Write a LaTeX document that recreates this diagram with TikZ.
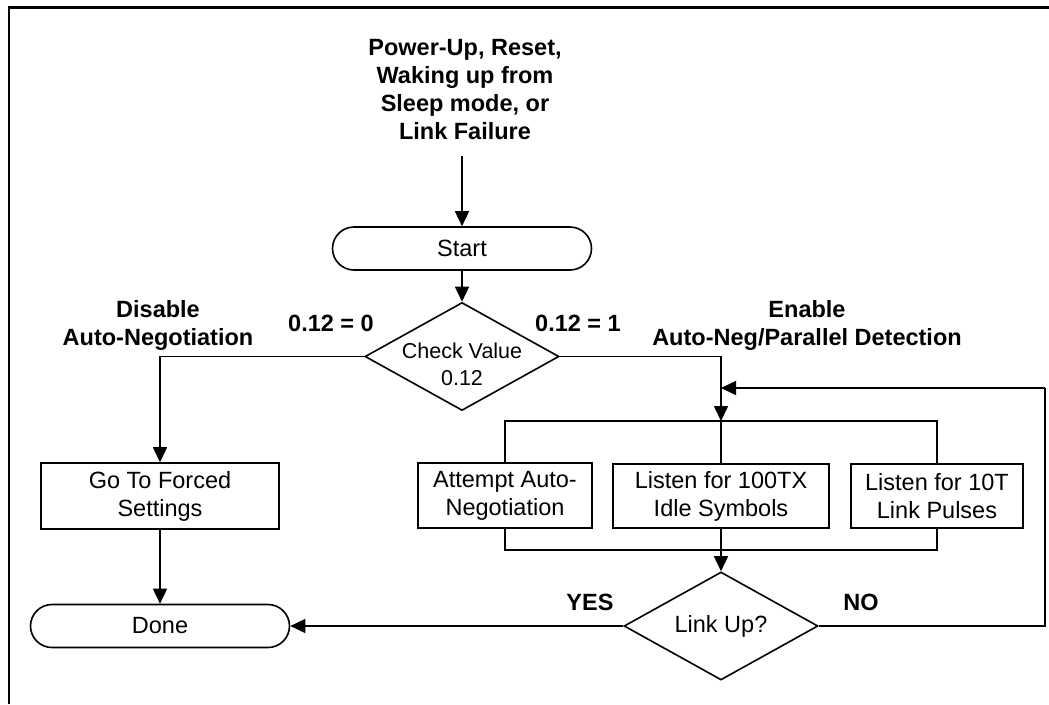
\documentclass[tikz,border=0pt]{standalone}
\usepackage{fontspec}
\setmainfont{Liberation Sans}
\usetikzlibrary{arrows.meta,shapes.geometric}
\begin{document}
\begin{tikzpicture}[x=1pt,y=-1pt,
  every node/.style={font=\fontsize{23.5}{28}\selectfont},
  ln/.style={line width=1.6pt},
  arr/.style={ln,-{Triangle[width=14pt,length=15pt]}},
  proc/.style={draw,ln,rectangle,align=center,inner sep=0pt},
  term/.style={draw,ln,rectangle,rounded corners=21.5pt,minimum width=259pt,minimum height=43pt,inner sep=0pt},
  dec/.style={draw,ln,diamond,minimum width=194pt,minimum height=108pt,inner sep=0pt},
  lbl/.style={inner sep=0pt,align=center,font=\fontsize{23.5}{28}\selectfont\bfseries}
]
\useasboundingbox (0,0) rectangle (1049,704);
\draw[line width=2.6pt] (9,704) -- (9,7.5) -- (1049,7.5);

\node[lbl] (title) at (465,90) {Power-Up, Reset,\\Waking up from\\Sleep mode, or\\Link Failure};
\coordinate (tin) at (462,156);

\node[term] (start) at (462,248.5) {Start};
\node[dec] (chk) at (462,356.5) {};
\node[inner sep=0pt,align=center,font=\fontsize{21.5}{27}\selectfont] (chkt) at (462,364) {Check Value\\0.12};

\node[lbl] (dis) at (158,325) {Disable\\Auto-Negotiation};
\node[lbl] (en) at (807,325) {Enable\\Auto-Neg/Parallel Detection};
\node[lbl] (z0) at (331,323.5) {0.12 = 0};
\node[lbl] (z1) at (578,323.5) {0.12 = 1};

\node[proc,minimum width=238pt,minimum height=66pt] (forced) at (160,496) {Go To Forced\\Settings};
\node[term] (done) at (160,626) {Done};

\node[proc,minimum width=174pt,minimum height=65pt] (att) at (505,495.5) {Attempt Auto-\\Negotiation};
\node[proc,minimum width=216pt,minimum height=64pt] (tx) at (721,496) {Listen for 100TX\\Idle Symbols};
\node[proc,minimum width=172pt,minimum height=64pt] (ten) at (937,496) {Listen for 10T\\Link Pulses};

\coordinate (jt) at (721,421);
\coordinate (jb) at (721,550);
\coordinate (fb) at (721,388);
\coordinate (fbc) at (1045,388);

\node[dec] (link) at (721,626) {};
\node[inner sep=0pt] (linkt) at (link) {Link Up?};

\node[lbl] (yes) at (590,602.5) {YES};
\node[lbl] (no) at (861,602.5) {NO};

\draw[arr] (tin) -- (start.north);
\draw[arr] (start.south) -- (chk.north);
\draw[arr] (chk.west) -| (forced.north);
\draw[arr] (forced.south) -- (done.north);
\draw[arr] (chk.east) -| (jt);
\draw[ln] (att.north) |- (jt) -| (ten.north);
\draw[ln] (jt) -- (tx.north);
\draw[ln] (att.south) |- (jb) -| (ten.south);
\draw[ln] (tx.south) -- (jb);
\draw[arr] (jb) -- (link.north);
\draw[arr] (link.west) -- (done.east);
\draw[ln] (link.east) -| (fbc);
\draw[arr] (fbc) -- (fb);
\end{tikzpicture}
\end{document}
